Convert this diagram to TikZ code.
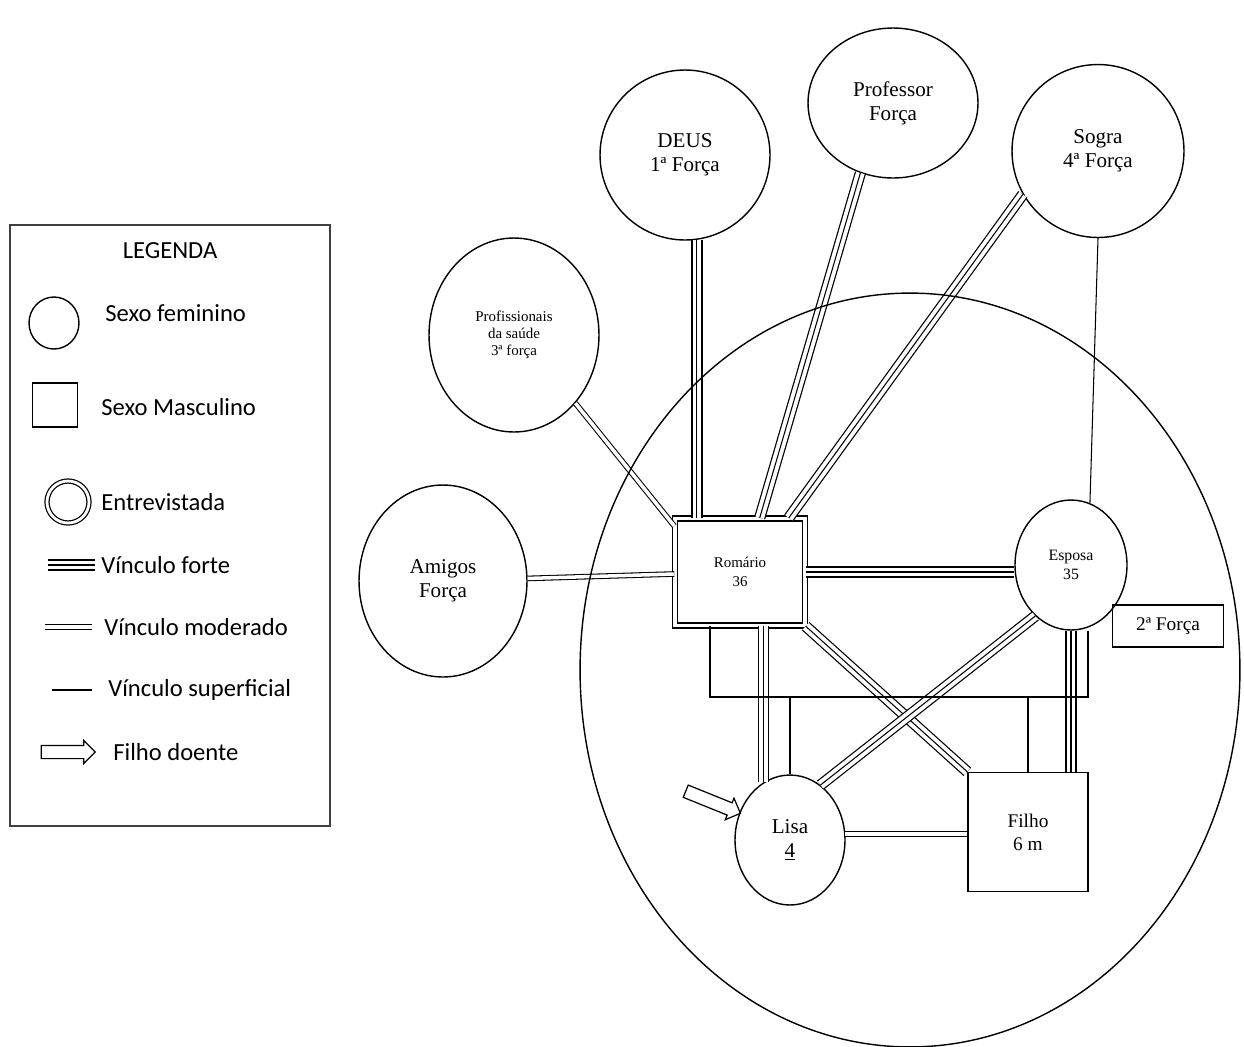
\documentclass[tikz,border=0pt]{standalone}
\usepackage{fontspec}
\setmainfont{Liberation Serif}
\newfontfamily\legfont{Carlito}
\usetikzlibrary{shapes.geometric,shapes.arrows}

\tikzset{
  fem/.style={draw, ellipse, line width=0.8pt, inner sep=0pt, align=center,
    font=\fontsize{12}{13.6}\selectfont},
  masc/.style={draw, rectangle, line width=0.8pt, inner sep=0pt, align=center},
  forte/.style={line width=6.4pt, postaction={draw=white, line width=5pt},
    postaction={draw=black, line width=0.6pt}},
  moderado/.style={double, double distance=2pt, line width=0.6pt},
  superficial/.style={line width=0.6pt},
  doente/.style={single arrow, draw, line width=0.7pt, inner xsep=0pt, inner ysep=0.12cm,
    single arrow head extend=0.1cm, minimum height=1.18cm},
  legtext/.style={anchor=west, inner sep=0pt, font=\legfont\fontsize{14}{16}\selectfont}
}

\begin{document}
\begin{tikzpicture}[x=0.02cm, y=-0.02cm]
  \useasboundingbox (0,0) rectangle (1244,1046);

  % legenda
  \draw[line width=1.3pt, black!75] (10,225) rectangle (330,826);
  \node[legtext, anchor=center] (legenda) at (170,251) {LEGENDA};
  \node[fem, minimum width=1cm, minimum height=1.04cm] (lcirc) at (54,323) {};
  \node[legtext] (lfem) at (105,313) {Sexo feminino};
  \node[masc, minimum width=0.9cm, minimum height=0.88cm] (lquad) at (55,405) {};
  \node[legtext] (lmasc) at (101,407) {Sexo Masculino};
  \node[draw, circle, double, double distance=1.6pt, line width=0.7pt, minimum size=0.84cm, inner sep=0pt] (lentr) at (68,502) {};
  \node[legtext] (lentrevistada) at (101,502) {Entrevistada};
  \node[legtext] (lforte) at (101,565) {Vínculo forte};
  \draw[forte] (lforte.west) ++(-6,0) -- ++(-47,0);
  \node[legtext] (lmod) at (104,627) {Vínculo moderado};
  \draw[moderado] (lmod.west) ++(-12,0) -- ++(-47,0);
  \node[legtext] (lsup) at (108,690) {Vínculo superficial};
  \draw[superficial] (lsup.west) ++(-16,0) -- ++(-40,0);
  \node[doente, minimum height=1.08cm] (lseta) at (65,752) {};
  \node[legtext] (ldoente) at (113,752) {Filho doente};

  % rede externa
  \node[fem, minimum width=3.4cm, minimum height=3.4cm] (deus) at (685,155) {DEUS\\1ª Força};
  \node[fem, minimum width=3.4cm, minimum height=3.0cm] (professor) at (893,103) {Professor\\Força};
  \node[fem, minimum width=3.44cm, minimum height=3.46cm] (sogra) at (1098,151) {Sogra\\4ª Força};
  \node[fem, minimum width=3.4cm, minimum height=3.88cm, font=\fontsize{8.5}{9.6}\selectfont] (profis) at (514,335) {Profissionais\\da saúde\\3ª força};
  \node[fem, minimum width=3.36cm, minimum height=3.84cm] (amigos) at (443,581) {Amigos\\Força};

  % familia
  \node[masc, double, double distance=2.2pt, minimum width=2.6cm, minimum height=2.14cm, font=\fontsize{8.5}{11}\selectfont] (romario) at (740,572) {Romário\\36};
  \node[fem, minimum width=2.24cm, minimum height=2.6cm, font=\fontsize{9}{11}\selectfont] (esposa) at (1071,565) {Esposa\\35};
  \node[masc, minimum width=2.22cm, minimum height=0.84cm, font=\fontsize{11}{13}\selectfont] (forca2) at (1168,626) {2ª Força};
  \node[fem, minimum width=2.2cm, minimum height=2.6cm] (lisa) at (790,840) {Lisa\\\underline{4}};
  \node[masc, minimum width=2.4cm, minimum height=2.38cm, font=\fontsize{11}{13}\selectfont] (filho) at (1028,832) {Filho\\6 m};
  \node[doente, rotate=-22] (seta) at (710,801) {};

  % vinculos
  \draw[forte] (deus.-82) -- (deus.-82 |- romario.north);
  \draw[forte] (professor.245) -- (romario.70);
  \draw[forte] (sogra.210) -- (romario.48);
  \draw[superficial] (sogra.-90) -- (esposa.73);
  \draw[moderado] (profis.-48) -- (romario.145);
  \draw[moderado] (amigos) -- (romario);
  \draw[forte] (romario.east) -- (romario.east -| esposa.west);
  \draw[forte] (romario.south east) -- (filho.north west);
  \draw[forte] (romario.south -| lisa.115) -- (lisa.115);
  \draw[forte] (esposa.235) -- (lisa.61);
  \draw[forte] (esposa.south) -- (esposa.south |- filho.north);
  \draw[moderado] (lisa.6) -- (lisa.6 -| filho.west);

  % uniao do casal e filhos
  \coordinate (uniaoE) at (710,697);
  \coordinate (uniaoD) at (1088,697);
  \draw[superficial] (romario.south -| uniaoE) -- (uniaoE) -- (uniaoD) -- (esposa.south -| uniaoD);
  \draw[superficial] (lisa.north) -- (lisa.north |- uniaoE);
  \draw[superficial] (filho.north) -- (filho.north |- uniaoE);

  % nucleo familiar
  \draw[line width=0.8pt] (910,670) ellipse [x radius=6.6cm, y radius=7.54cm];
\end{tikzpicture}
\end{document}
